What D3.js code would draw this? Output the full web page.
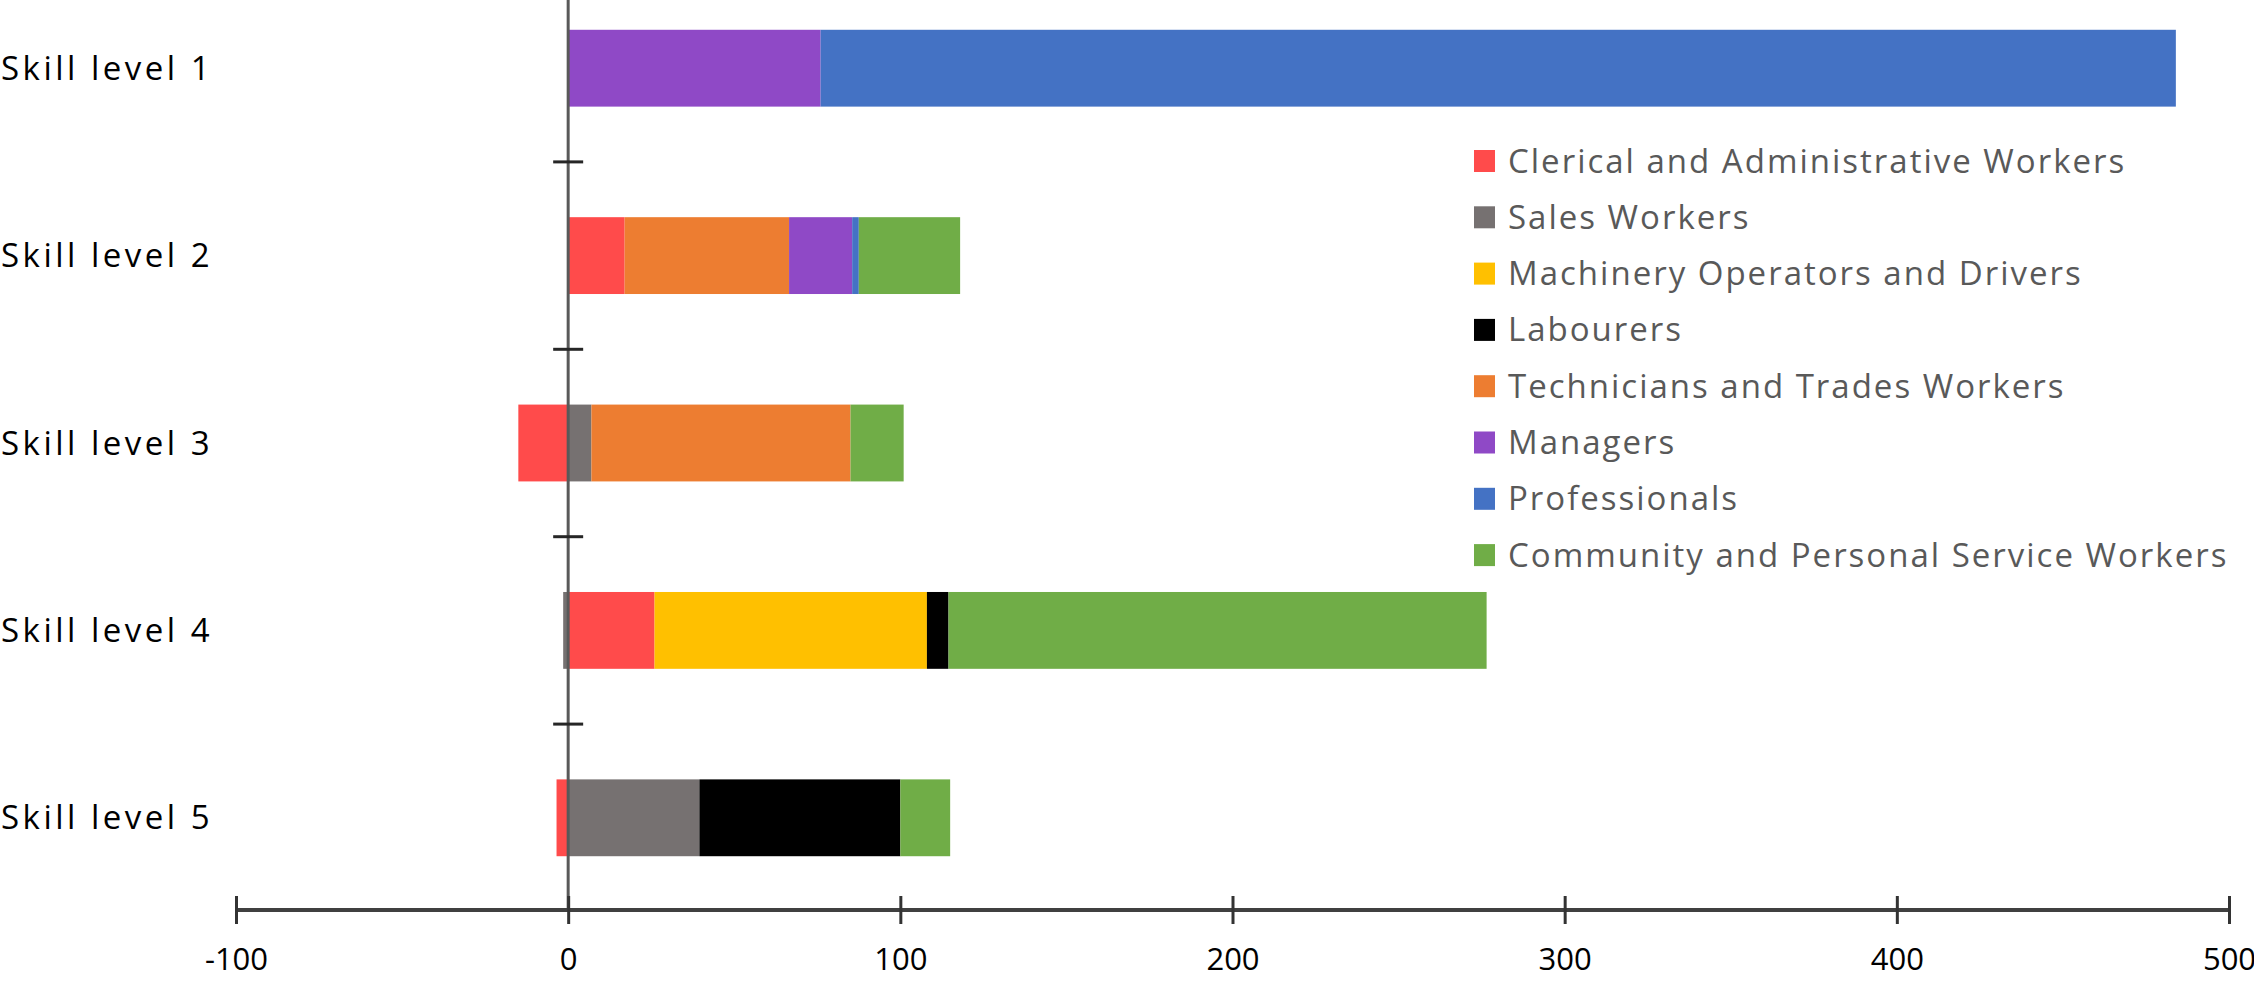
<!DOCTYPE html>
<html>
<head>
<meta charset="utf-8">
<script src="https://cdn.jsdelivr.net/npm/d3@7"></script>
<style>
	body { margin: 0; background: #fff; }
	text { font-family: "Open Sans", sans-serif; }
</style>
</head>
<body>
<svg id="chart" width="2254" height="981"></svg>
<script>
var categories = ["Skill level 1", "Skill level 2", "Skill level 3", "Skill level 4", "Skill level 5"],
	seriesNames = ["Clerical and Administrative Workers", "Sales Workers", "Machinery Operators and Drivers",
		"Labourers", "Technicians and Trades Workers", "Managers", "Professionals",
		"Community and Personal Service Workers"],
	seriesColors = ["#ff4b4b", "#767171", "#ffc000", "#000000", "#ed7d31", "#8f49c6", "#4472c4", "#70ad47"],
	// one value per skill level
	clerical = [0, 17, -15, 26, -3.5],
	sales = [0, 0, 7, -1.5, 39.5],
	machinery = [0, 0, 0, 82, 0],
	labourers = [0, 0, 0, 6.5, 60.5],
	technicians = [0, 49.5, 78, 0, 0],
	managers = [76, 19, 0, 0, 0],
	professionals = [408, 2, 0, 0, 0],
	community = [0, 30.5, 16, 162, 15],
	xTicks = [-100, 0, 100, 200, 300, 400, 500];

var seriesValues = [clerical, sales, machinery, labourers, technicians, managers, professionals, community];

var svg = d3.select("#chart"),
	plotTop = -25.5,
	plotBottom = 911.5,
	axisY = 910;

// rows for the stack
var rows = categories.map(function(c, i){
	var row = {category: c};
	seriesNames.forEach(function(s, k){ row[s] = seriesValues[k][i]; });
	return row;
});

var stacked = d3.stack()
	.keys(seriesNames)
	.offset(d3.stackOffsetDiverging)(rows);

var x = d3.scaleLinear().domain([-100, 500]).range([236, 2229]);
var y = d3.scaleBand().domain(categories).range([plotTop, plotBottom])
	.paddingInner(0.59).paddingOuter(0.295);

// bars
svg.append("g")
	.selectAll("g")
	.data(stacked)
	.join("g")
		.attr("fill", function(d, i){ return seriesColors[i]; })
	.selectAll("rect")
	.data(function(d){ return d; })
	.join("rect")
		.attr("x", function(d){ return x(Math.min(d[0], d[1])); })
		.attr("width", function(d){ return Math.abs(x(d[1]) - x(d[0])); })
		.attr("y", function(d){ return y(d.data.category); })
		.attr("height", y.bandwidth());

// vertical axis at zero
svg.append("line")
	.attr("x1", x(0)).attr("x2", x(0))
	.attr("y1", 0).attr("y2", axisY)
	.attr("stroke", "#595959")
	.attr("stroke-width", 3);

// category boundary ticks
var step = y.step();
svg.append("g")
	.selectAll("line")
	.data(d3.range(1, categories.length))
	.join("line")
		.attr("x1", x(0) - 15).attr("x2", x(0) + 15)
		.attr("y1", function(i){ return plotTop + i*step; })
		.attr("y2", function(i){ return plotTop + i*step; })
		.attr("stroke", "#262626")
		.attr("stroke-width", 3);

// category labels
svg.append("g")
	.selectAll("text")
	.data(categories)
	.join("text")
		.attr("x", 1)
		.attr("y", function(d){ return y(d) + y.bandwidth()/2; })
		.attr("dy", "0.35em")
		.attr("font-size", 33)
		.attr("letter-spacing", 3.5)
		.attr("fill", "#000")
		.text(function(d){ return d; });

// x axis
var xAxis = svg.append("g")
	.attr("transform", "translate(0," + axisY + ")")
	.call(d3.axisBottom(x).tickValues(xTicks).tickSize(14).tickSizeOuter(0)
		.tickFormat(function(d){ return String(d); }));

xAxis.select(".domain")
	.attr("d", "M" + x(-100) + ",0H" + x(500))
	.attr("stroke", "#404040")
	.attr("stroke-width", 4);
xAxis.selectAll(".tick line")
	.attr("y1", -14)
	.attr("stroke", "#333")
	.attr("stroke-width", 3);
xAxis.selectAll(".tick text")
	.attr("y", 60)
	.attr("dy", null)
	.attr("font-size", 31)
	.attr("font-family", "Open Sans, sans-serif")
	.attr("fill", "#000");

// legend
var legend = svg.append("g")
	.attr("transform", "translate(1474,161)");

var item = legend.selectAll("g")
	.data(seriesNames)
	.join("g")
		.attr("transform", function(d, i){ return "translate(0," + (i*56.3) + ")"; });

item.append("rect")
	.attr("x", 0).attr("y", -11)
	.attr("width", 21).attr("height", 22)
	.attr("fill", function(d, i){ return seriesColors[i]; });

item.append("text")
	.attr("x", 34)
	.attr("dy", "0.35em")
	.attr("font-size", 33)
	.attr("letter-spacing", 2)
	.attr("fill", "#595959")
	.text(function(d){ return d; });
</script>
</body>
</html>
